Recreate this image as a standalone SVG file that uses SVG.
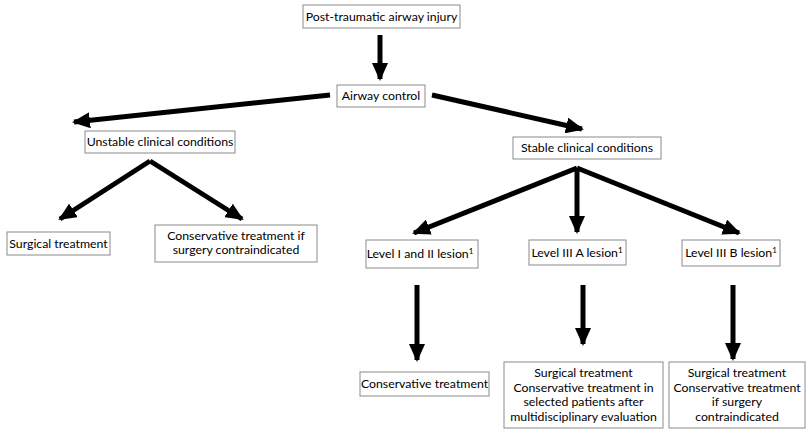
<svg xmlns="http://www.w3.org/2000/svg" width="809" height="435" viewBox="0 0 809 435">
<defs>
<style>
.b{fill:#fff;stroke:#8a8a8a;stroke-width:1}
.t{font-family:Lato,"Open Sans","Liberation Sans",sans-serif;font-size:12.3px;fill:#000;text-anchor:middle}
.c{stroke:#000;stroke-width:5;fill:none;marker-end:url(#ah)}
</style>
<marker id="ah" markerUnits="userSpaceOnUse" markerWidth="18" markerHeight="16" refX="16" refY="8" orient="auto">
<path d="M0,0 L18,8 L0,16 Z" fill="#000"/>
</marker>
</defs>
<rect width="809" height="435" fill="#fff"/>
<g id="connectors">
<line class="c" x1="380" y1="35" x2="380" y2="79"/>
<line class="c" x1="330" y1="95" x2="74" y2="122"/>
<line class="c" x1="432" y1="95" x2="582" y2="129"/>
<line class="c" x1="150" y1="161" x2="60" y2="219"/>
<line class="c" x1="150" y1="161" x2="242" y2="219"/>
<line class="c" x1="577" y1="168" x2="414" y2="233"/>
<line class="c" x1="577" y1="168" x2="577" y2="232"/>
<line class="c" x1="577" y1="168" x2="739" y2="233"/>
<line class="c" x1="417" y1="285" x2="417" y2="360"/>
<line class="c" x1="583" y1="285" x2="583" y2="344"/>
<line class="c" x1="733" y1="285" x2="733" y2="359"/>
</g>
<g id="n1"><rect class="b" x="303" y="5" width="157" height="23"/><text class="t" x="381.5" y="21">Post-traumatic airway injury</text></g>
<g id="n2"><rect class="b" x="337" y="85" width="88" height="22"/><text class="t" x="381" y="100">Airway control</text></g>
<g id="n3"><rect class="b" x="85" y="131" width="150" height="22"/><text class="t" x="160" y="146">Unstable clinical conditions</text></g>
<g id="n4"><rect class="b" x="513" y="137" width="148" height="22"/><text class="t" x="587" y="152">Stable clinical conditions</text></g>
<g id="n5"><rect class="b" x="7" y="232" width="103" height="23"/><text class="t" x="58.5" y="248">Surgical treatment</text></g>
<g id="n6"><rect class="b" x="155" y="225" width="162" height="37"/><text class="t" x="236" y="240">Conservative treatment if</text><text class="t" x="236" y="254">surgery contraindicated</text></g>
<g id="n7"><rect class="b" x="366" y="240" width="112" height="28"/><text class="t" x="420" y="258">Level I and II lesion<tspan font-size="8" dy="-4">1</tspan></text></g>
<g id="n8"><rect class="b" x="529" y="240" width="97" height="25"/><text class="t" x="577" y="257">Level III A lesion<tspan font-size="8" dy="-4">1</tspan></text></g>
<g id="n9"><rect class="b" x="682" y="240" width="98" height="26"/><text class="t" x="731" y="257">Level III B lesion<tspan font-size="8" dy="-4">1</tspan></text></g>
<g id="n10"><rect class="b" x="360" y="372" width="129" height="24"/><text class="t" x="424.5" y="388">Conservative treatment</text></g>
<g id="n11"><rect class="b" x="504" y="362" width="159" height="66"/><text class="t" x="583.5" y="377">Surgical treatment</text><text class="t" x="583.5" y="391.5">Conservative treatment in</text><text class="t" x="583.5" y="406">selected patients after</text><text class="t" x="583.5" y="420.5">multidisciplinary evaluation</text></g>
<g id="n12"><rect class="b" x="669" y="362" width="136" height="66"/><text class="t" x="737" y="377">Surgical treatment</text><text class="t" x="737" y="391.5">Conservative treatment</text><text class="t" x="737" y="406">if surgery</text><text class="t" x="737" y="420.5">contraindicated</text></g>
</svg>
